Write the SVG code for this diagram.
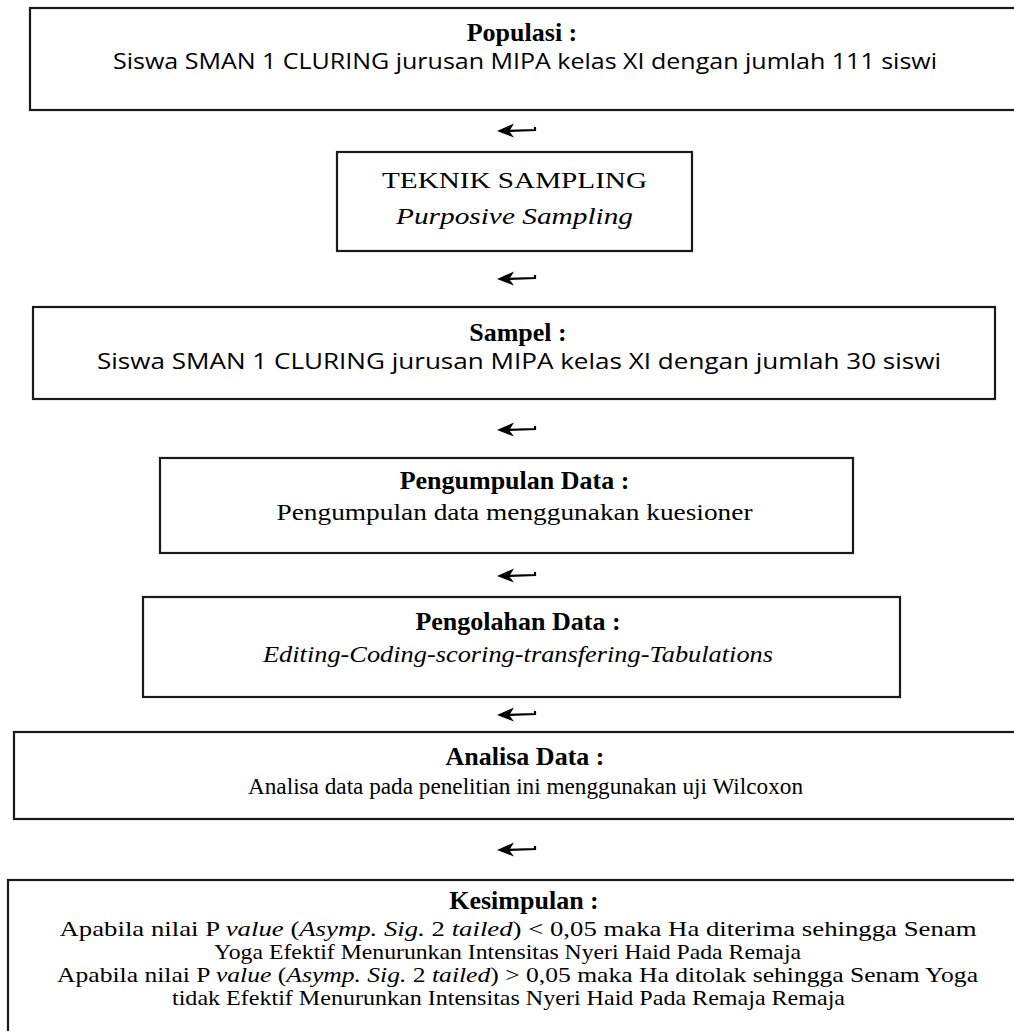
<svg xmlns="http://www.w3.org/2000/svg" width="1014" height="1031" viewBox="0 0 1014 1031">
<style>
.box{fill:#fff;stroke:#1a1a1a;stroke-width:2.2}
.t{font-family:"Liberation Serif","Times New Roman",serif;font-weight:bold;font-size:26px;fill:#000;text-anchor:middle}
.s{font-family:"Liberation Serif","Times New Roman",serif;font-size:24px;fill:#000;text-anchor:middle}
.c{font-family:"Open Sans","Liberation Sans",sans-serif;font-size:22px;fill:#000;text-anchor:middle}
.k{font-size:22px}
.i{font-style:italic}
</style>
<defs>
<g id="arr">
<path d="M0,0 L17,-7.5 L13,-1 L13,1.2 L17,6.5 Z" fill="#000"/>
<path d="M12,-0.2 L38,-1 L38,-4" fill="none" stroke="#000" stroke-width="2.2"/>
</g>
</defs>
<rect width="1014" height="1031" fill="#fff"/>
<g id="connectors">
<use href="#arr" x="497" y="131"/>
<use href="#arr" x="497" y="279"/>
<use href="#arr" x="497" y="430"/>
<use href="#arr" x="497" y="576"/>
<use href="#arr" x="497" y="715"/>
<use href="#arr" x="497" y="850"/>
</g>
<g id="populasi">
<rect class="box" x="30" y="8" width="1000" height="102"/>
<text class="t" x="522" y="41">Populasi :</text>
<text class="c" x="525" y="69" textLength="824" lengthAdjust="spacingAndGlyphs">Siswa SMAN 1 CLURING jurusan MIPA kelas XI dengan jumlah 111 siswi</text>
</g>
<g id="teknik">
<rect class="box" x="337" y="152" width="355" height="99"/>
<text class="s" x="514.5" y="188" font-size="26" textLength="265" lengthAdjust="spacingAndGlyphs">TEKNIK SAMPLING</text>
<text class="s i" x="514.5" y="224" font-size="26" textLength="237" lengthAdjust="spacingAndGlyphs">Purposive Sampling</text>
</g>
<g id="sampel">
<rect class="box" x="33" y="307" width="962" height="92"/>
<text class="t" x="518" y="341">Sampel :</text>
<text class="c" x="519" y="369" textLength="844" lengthAdjust="spacingAndGlyphs">Siswa SMAN 1 CLURING jurusan MIPA kelas XI dengan jumlah 30 siswi</text>
</g>
<g id="pengumpulan">
<rect class="box" x="160" y="458" width="693" height="95"/>
<text class="t" x="514.5" y="489">Pengumpulan Data :</text>
<text class="s" x="514.5" y="520" textLength="476" lengthAdjust="spacingAndGlyphs">Pengumpulan data menggunakan kuesioner</text>
</g>
<g id="pengolahan">
<rect class="box" x="143" y="597" width="757" height="100"/>
<text class="t" x="518" y="630">Pengolahan Data :</text>
<text class="s i" x="518" y="662" textLength="510" lengthAdjust="spacingAndGlyphs">Editing-Coding-scoring-transfering-Tabulations</text>
</g>
<g id="analisa">
<rect class="box" x="14" y="732" width="1010" height="87"/>
<text class="t" x="525" y="765">Analisa Data :</text>
<text class="s" x="525.5" y="794" font-size="23" textLength="555" lengthAdjust="spacingAndGlyphs">Analisa data pada penelitian ini menggunakan uji Wilcoxon</text>
</g>
<g id="kesimpulan">
<rect class="box" x="8" y="880" width="1020" height="200"/>
<text class="t" x="524" y="909" font-size="24">Kesimpulan :</text>
<text class="s k" x="518" y="936" textLength="917" lengthAdjust="spacingAndGlyphs">Apabila nilai P <tspan class="i">value</tspan> (<tspan class="i">Asymp. Sig.</tspan> 2 <tspan class="i">tailed</tspan>) &lt; 0,05 maka Ha diterima sehingga Senam</text>
<text class="s k" x="507.5" y="959" textLength="587" lengthAdjust="spacingAndGlyphs">Yoga Efektif Menurunkan Intensitas Nyeri Haid Pada Remaja</text>
<text class="s k" x="517.5" y="982" textLength="921" lengthAdjust="spacingAndGlyphs">Apabila nilai P <tspan class="i">value</tspan> (<tspan class="i">Asymp. Sig.</tspan> 2 <tspan class="i">tailed</tspan>) &gt; 0,05 maka Ha ditolak sehingga Senam Yoga</text>
<text class="s k" x="508.5" y="1005" textLength="673" lengthAdjust="spacingAndGlyphs">tidak Efektif Menurunkan Intensitas Nyeri Haid Pada Remaja Remaja</text>
</g>
</svg>
